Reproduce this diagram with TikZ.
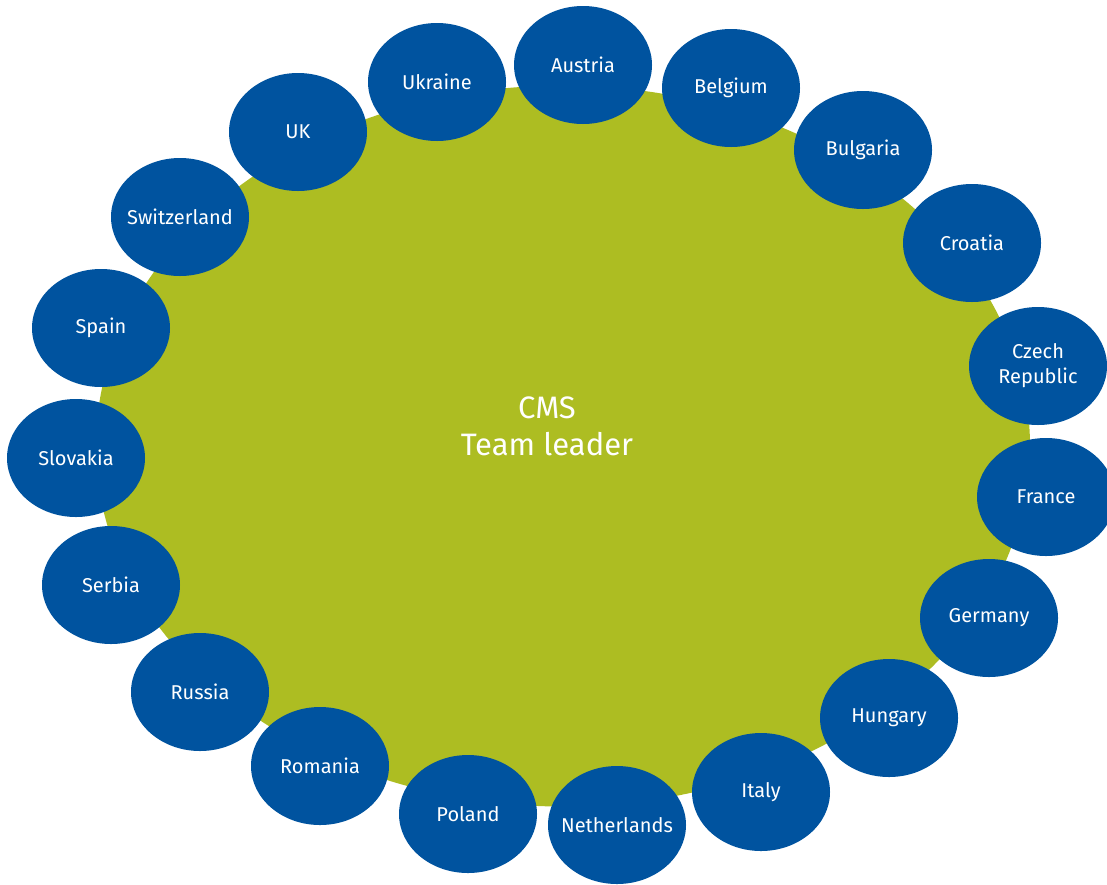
\documentclass[tikz,border=0pt]{standalone}
\usepackage{fontspec}
\setmainfont{Fira Sans}
\usetikzlibrary{shapes.geometric}

\definecolor{cmsgreen}{HTML}{ADBD22}
\definecolor{cmsblue}{HTML}{00539F}

\begin{document}
\begin{tikzpicture}[x=1pt,y=-1pt,
    team/.style={ellipse,fill=cmsgreen,minimum width=934pt,minimum height=721pt,inner sep=0pt},
    leader/.style={text=white,align=center,font=\fontsize{31}{37}\selectfont},
    country/.style={ellipse,fill=cmsblue,text=white,align=center,minimum width=138pt,minimum height=118pt,inner xsep=-22pt,inner ysep=0pt,font=\fontsize{20}{25}\selectfont}]

    \useasboundingbox (0,0) rectangle (1107,884);

    % team in the middle
    \node[team] (cms) at (563,446) {};
    \node[leader] (lead) at (547,426) {CMS\\Team leader};

    % countries round it, clockwise from the top
    \node[country] (austria) at (583,65) {Austria};
    \node[country] (belgium) at (731,88) {Belgium};
    \node[country] (bulgaria) at (863,150) {Bulgaria};
    \node[country] (croatia) at (972,243) {Croatia};
    \node[country] (czech) at (1038,366) {Czech\\Republic};
    \node[country] (france) at (1046,497) {France};
    \node[country] (germany) at (989,618) {Germany};
    \node[country] (hungary) at (889,718) {Hungary};
    \node[country] (italy) at (761,792) {Italy};
    \node[country] (netherlands) at (617,825) {Netherlands};
    \node[country] (poland) at (468,814) {Poland};
    \node[country] (romania) at (320,766) {Romania};
    \node[country] (russia) at (200,692) {Russia};
    \node[country] (serbia) at (111,585) {Serbia};
    \node[country] (slovakia) at (76,458) {Slovakia};
    \node[country] (spain) at (101,328) {Spain};
    \node[country] (switzerland) at (180,217) {Switzerland};
    \node[country] (uk) at (298,132) {UK};
    \node[country] (ukraine) at (437,82) {Ukraine};

\end{tikzpicture}
\end{document}
